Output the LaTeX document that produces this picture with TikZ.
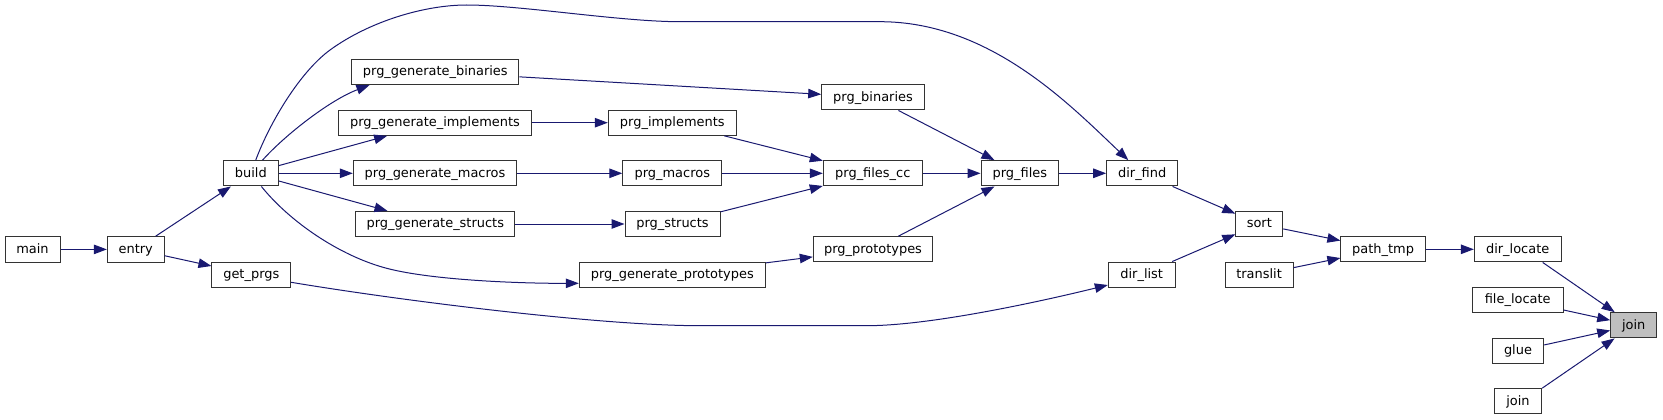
\documentclass[tikz,border=0pt]{standalone}
\usepackage{fontspec}
\setmainfont{DejaVu Sans}
\usetikzlibrary{arrows.meta,calc}
\definecolor{edgeblue}{RGB}{25,25,112}
\definecolor{boxline}{RGB}{51,51,51}
\definecolor{rootfill}{RGB}{191,191,191}
\begin{document}
\begin{tikzpicture}[x=1pt,y=-1pt,
  fn/.style={draw=boxline, line width=1pt, fill=white, rectangle, minimum height=25.3pt,
    inner sep=0pt, text height=10.4pt, text depth=2.5pt, font=\fontsize{12.95}{15}\selectfont},
  call/.style={draw=edgeblue, line width=1pt, -{Triangle[length=13pt,width=9.5pt]}}]
\path[use as bounding box] (0,0) rectangle (1663,420);

% nodes
\node[fn, minimum width=55pt] (main) at (32.5,249.4) {main};
\node[fn, minimum width=56.7pt] (entry) at (135.7,249.4) {entry};
\node[fn, minimum width=55pt] (build) at (250.8,173.3) {build};
\node[fn, minimum width=78.7pt] (getprgs) at (251.3,274.7) {get\_prgs};
\node[fn, minimum width=167.3pt] (pgb) at (435.3,72) {prg\_generate\_binaries};
\node[fn, minimum width=193.4pt] (pgi) at (435,122.7) {prg\_generate\_implements};
\node[fn, minimum width=163.4pt] (pgm) at (435,173.3) {prg\_generate\_macros};
\node[fn, minimum width=159.3pt] (pgs) at (435.3,224) {prg\_generate\_structs};
\node[fn, minimum width=186pt] (pgp) at (672.3,274.7) {prg\_generate\_prototypes};
\node[fn, minimum width=128pt] (pimpl) at (672.3,122.7) {prg\_implements};
\node[fn, minimum width=99pt] (pmac) at (672.3,173.3) {prg\_macros};
\node[fn, minimum width=95pt] (pstr) at (672.5,224) {prg\_structs};
\node[fn, minimum width=102.6pt] (pbin) at (873,97.3) {prg\_binaries};
\node[fn, minimum width=99pt] (pfcc) at (872.8,173.3) {prg\_files\_cc};
\node[fn, minimum width=119.4pt] (pproto) at (873,249.3) {prg\_prototypes};
\node[fn, minimum width=77.7pt] (pfiles) at (1019.9,173.3) {prg\_files};
\node[fn, minimum width=71pt] (dfind) at (1142.2,173.3) {dir\_find};
\node[fn, minimum width=66.7pt] (dlist) at (1141.7,274.7) {dir\_list};
\node[fn, minimum width=47pt] (sort) at (1259.3,224) {sort};
\node[fn, minimum width=68.2pt] (translit) at (1259.1,274.7) {translit};
\node[fn, minimum width=84.4pt] (ptmp) at (1383.1,249.3) {path\_tmp};
\node[fn, minimum width=86.7pt] (dloc) at (1517.7,249.3) {dir\_locate};
\node[fn, minimum width=90.7pt] (floc) at (1517.7,300) {file\_locate};
\node[fn, minimum width=51.4pt] (glue) at (1518,350.7) {glue};
\node[fn, minimum width=47.4pt] (joinb) at (1518,401.3) {join};
\node[fn, fill=rootfill, minimum width=46pt] (join) at (1633.7,325.3) {join};

% edges
\draw[call] (main) -- (entry);
\draw[call] (entry) -- (build);
\draw[call] (entry) -- (getprgs);
\draw[call] (build) .. controls (285,135) and (330,100) .. ($(pgb.south west)+(18.3,0)$);
\draw[call] (build) -- (pgi);
\draw[call] (build) -- (pgm);
\draw[call] (build) -- (pgs);
\draw[call] (build) .. controls (270,122) and (300,72) .. (330,50)
  .. controls (370,21) and (425,5) .. (466.7,5)
  .. controls (520,5) and (620,21.7) .. (680,21.7) -- (880,21.7)
  .. controls (990,21.7) and (1070,105) .. (dfind);
\draw[call] (build) .. controls (290,222) and (340,256) .. (386.7,268.3)
  .. controls (431.7,280.2) and (520,283.5) .. ($(pgp.west)+(0,8.6)$);
\draw[call] ($(getprgs.east)+(0,7.6)$) .. controls (400,300.5) and (600,325.7) .. (700,325.7)
  -- (866.7,325.7) .. controls (930,325.7) and (1040.3,301.6) .. ($(dlist.west)+(0,10.3)$);
\draw[call] (pgb) -- (pbin);
\draw[call] (pgi) -- (pimpl);
\draw[call] (pgm) -- (pmac);
\draw[call] (pgs) -- (pstr);
\draw[call] (pgp) -- (pproto);
\draw[call] (pimpl) -- (pfcc);
\draw[call] (pmac) -- (pfcc);
\draw[call] (pstr) -- (pfcc);
\draw[call] (pfcc) -- (pfiles);
\draw[call] (pbin) -- (pfiles);
\draw[call] (pproto) -- (pfiles);
\draw[call] (pfiles) -- (dfind);
\draw[call] (dfind) -- (sort);
\draw[call] (dlist) -- (sort);
\draw[call] (sort) -- (ptmp);
\draw[call] (translit) -- (ptmp);
\draw[call] (ptmp) -- (dloc);
\draw[call] ($(dloc.south)+(25,0)$) -- (join);
\draw[call] (floc) -- (join);
\draw[call] (glue) -- (join);
\draw[call] (joinb.north east) -- (join);
\end{tikzpicture}
\end{document}
